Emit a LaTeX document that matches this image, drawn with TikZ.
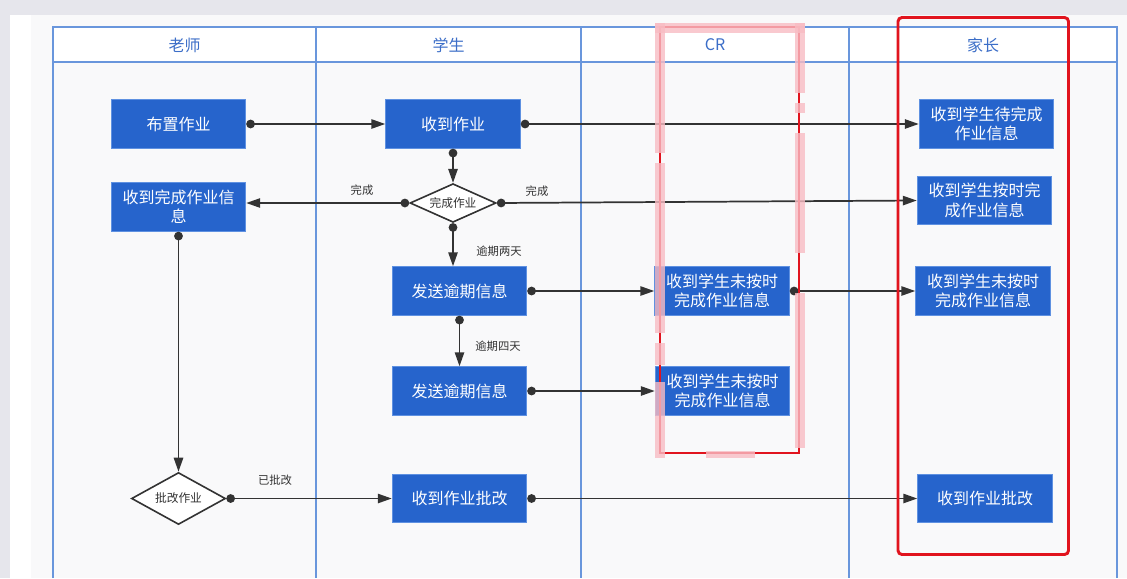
\documentclass[tikz,border=0pt]{standalone}
\usepackage{fontspec}
\newfontfamily\cjk{Noto Sans CJK SC}
\usepackage{tikz}
\usetikzlibrary{positioning,shapes.geometric,arrows.meta}
\usepackage{xcolor}
\definecolor{boxblue}{RGB}{38,100,204}
\definecolor{boxedge}{RGB}{95,145,225}
\definecolor{lane}{RGB}{105,150,220}
\definecolor{lanetext}{RGB}{60,110,200}
\definecolor{linegray}{RGB}{51,51,51}
\definecolor{canvas}{RGB}{249,249,250}
\definecolor{frame}{RGB}{230,230,236}
\definecolor{markred}{RGB}{225,20,30}
\definecolor{markpink}{RGB}{248,188,195}

\begin{document}
\begin{tikzpicture}[
    x=0.75pt, y=-0.75pt, font=\cjk,
    task/.style={rectangle, draw=boxedge, line width=0.6pt, fill=boxblue,
                 text=white, align=center, inner sep=1pt,
                 minimum width=101pt, minimum height=36.5pt,
                 font=\cjk\fontsize{12pt}{14.5pt}\selectfont},
    check/.style={diamond, draw=linegray, line width=1.2pt, fill=white,
                  aspect=2.2, inner sep=0pt, text=linegray,
                  font=\cjk\fontsize{8.8pt}{10pt}\selectfont},
    flow/.style={draw=linegray, line width=1.3pt,
                 arrows={Circle[length=6.5pt]-Triangle[length=10.5pt,width=7pt]}},
    lbl/.style={text=linegray, font=\cjk\fontsize{8.5pt}{10pt}\selectfont},
    head/.style={text=lanetext, font=\cjk\fontsize{12pt}{14pt}\selectfont},
    pinkmark/.style={markpink, opacity=0.8, line width=7.5pt},
  ]
    \useasboundingbox (0,0) rectangle (1127,578);
    \fill[frame] (0,0) rectangle (1127,578);
    \fill[white] (10,15) rectangle (1127,578);
    \fill[canvas] (31,15) rectangle (1127,578);

    % swimlanes
    \fill[white] (53,27) rectangle (1117,62);
    \draw[lane, line width=0.8pt] (53,578) -- (53,27) -- (1117,27) -- (1117,578);
    \draw[lane, line width=0.8pt] (53,62) -- (1117,62);
    \foreach \x in {316,581,849}
      \draw[lane, line width=0.8pt] (\x,27) -- (\x,578);

    \node[head] (hTeacher) at (184.5,45) {老师};
    \node[head] (hStudent) at (448.5,45) {学生};
    \node[head] (hCR) at (715,45) {CR};
    \node[head] (hParent) at (983,45) {家长};

    % teacher
    \node[task] (assign) at (178.5,124) {布置作业};
    \node[task] (doneInfo) at (178.5,207) {收到完成作业信\\息};
    \node[check, minimum width=70.5pt, minimum height=39pt]
      (review) at (178.5,498.5) {批改作业};

    % student
    \node[task] (recv) at (453,124) {收到作业};
    \node[check, minimum width=64.5pt, minimum height=29pt]
      (finish) at (453,203) {完成作业};
    \node[task] (overdueA) at (459.5,291) {发送逾期信息};
    \node[task] (overdueB) at (459.5,391) {发送逾期信息};
    \node[task] (reviewed) at (459.5,498.5) {收到作业批改};

    % CR
    \node[task] (crA) at (722,291) {收到学生未按时\\完成作业信息};
    \node[task] (crB) at (722.5,391) {收到学生未按时\\完成作业信息};

    % parent
    \node[task] (pTodo) at (986.5,124) {收到学生待完成\\作业信息};
    \node[task] (pDone) at (984.5,200.5) {收到学生按时完\\成作业信息};
    \node[task] (pLate) at (983,291) {收到学生未按时\\完成作业信息};
    \node[task] (pReviewed) at (985,498.5) {收到作业批改};

    \draw[flow] (assign.east) -- (recv.west);
    \draw[flow] (recv.east) -- (pTodo.west);
    \draw[flow] (recv.south) -- (finish.north);
    \draw[flow] (finish.west) -- (finish.west -| doneInfo.east);
    \draw[flow] (finish.east) -- (pDone.west);
    \draw[flow] (finish.south) -- (finish.south |- overdueA.north);
    \draw[flow] (overdueA.south) -- (overdueB.north);
    \draw[flow] (overdueA.east) -- (crA.west);
    \draw[flow] (overdueB.east) -- (crB.west);
    \draw[flow] (crA.east) -- (pLate.west);
    \draw[flow] (doneInfo.south) -- (review.north);
    \draw[flow] (review.east) -- (reviewed.west);
    \draw[flow] (reviewed.east) -- (pReviewed.west);

    \node[lbl] (lDoneL) at (362,190) {完成};
    \node[lbl] (lDoneR) at (537,191) {完成};
    \node[lbl] (lTwo) at (499,251) {逾期两天};
    \node[lbl] (lFour) at (498,346) {逾期四天};
    \node[lbl] (lChecked) at (275,480) {已批改};

    % highlight marks
    \draw[markred, line width=1.5pt] (660,27) rectangle (799,453);
    \draw[pinkmark] (660,23) -- (660,153) (660,163) -- (660,333)
                    (660,343) -- (660,365) (660,382) -- (660,458);
    \draw[pinkmark] (655,27.5) -- (805,27.5);
    \draw[pinkmark] (800,23) -- (800,93) (800,103) -- (800,113)
                    (800,133) -- (800,253) (800,293) -- (800,448);
    \fill[markpink, opacity=0.8] (706,451) rectangle (755,458);
    \draw[markred, line width=2.2pt, rounded corners=3pt] (898,17.5) rectangle (1068.5,554.5);
  \end{tikzpicture}
\end{document}
